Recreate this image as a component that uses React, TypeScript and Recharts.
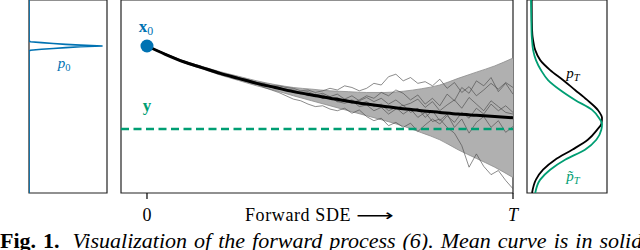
import React from 'react';
import {
  ComposedChart,
  LineChart,
  Line,
  Area,
  XAxis,
  YAxis,
  ReferenceLine,
  ReferenceDot,
  ReferenceArea,
} from 'recharts';

const BLUE = '#0072B2';
const GREEN = '#009E73';
const SERIF = '"Liberation Serif", "DejaVu Serif", serif';

// shared vertical scale (state value), y = 0 is the observation
const Y_DOMAIN: [number, number] = [-0.771, 1.554];
const T_DOMAIN: [number, number] = [-0.071, 1];

const timeTicks = [0, 1];
const timeTickLabels = ['0', 'T'];

// mean curve and +- band of the forward SDE
const bandT = [0, 0.05, 0.1, 0.15, 0.2, 0.25, 0.3, 0.35, 0.4, 0.45, 0.5, 0.55, 0.6, 0.65, 0.7, 0.75, 0.8, 0.85, 0.9, 0.95, 1];
const meanCurve = [1.0, 0.9, 0.81, 0.74, 0.67, 0.61, 0.55, 0.5, 0.45, 0.41, 0.37, 0.335, 0.3, 0.27, 0.245, 0.22, 0.2, 0.18, 0.165, 0.15, 0.135];
const bandUpper = [1.0, 0.905, 0.82, 0.755, 0.69, 0.635, 0.58, 0.535, 0.5, 0.48, 0.46, 0.45, 0.44, 0.44, 0.455, 0.485, 0.53, 0.61, 0.685, 0.76, 0.855];
const bandLower = [1.0, 0.895, 0.8, 0.725, 0.65, 0.585, 0.52, 0.465, 0.4, 0.34, 0.28, 0.22, 0.16, 0.1, 0.035, -0.045, -0.13, -0.25, -0.355, -0.46, -0.585];

// sample paths
const pathT = [
  0, 0.1, 0.2, 0.3, 0.32, 0.34, 0.36, 0.38, 0.4, 0.42, 0.44, 0.46, 0.48, 0.5, 0.52, 0.54, 0.56, 0.58, 0.6,
  0.62, 0.64, 0.66, 0.68, 0.7, 0.72, 0.74, 0.76, 0.78, 0.8, 0.82, 0.84, 0.86, 0.88, 0.9, 0.92, 0.94, 0.96, 0.98, 1,
];
const pathA = [1, 0.82, 0.68, 0.56, 0.55, 0.52, 0.52, 0.5, 0.49, 0.46, 0.47, 0.44, 0.46, 0.49, 0.47, 0.52, 0.5, 0.46, 0.49, 0.55, 0.53, 0.63, 0.66, 0.58, 0.62, 0.55, 0.57, 0.52, 0.6, 0.49, 0.56, 0.44, 0.51, 0.4, 0.47, 0.55, 0.48, 0.56, 0.5];
const pathB = [1, 0.8, 0.66, 0.54, 0.5, 0.47, 0.44, 0.4, 0.36, 0.34, 0.3, 0.27, 0.28, 0.24, 0.22, 0.25, 0.19, 0.23, 0.15, 0.1, 0.13, 0.04, 0.08, 0.02, 0.07, -0.03, 0.05, 0.12, 0.06, 0.16, 0.08, 0.2, 0.13, 0.25, 0.18, 0.3, 0.22, 0.28, 0.2];
const pathC = [1, 0.81, 0.67, 0.55, 0.54, 0.5, 0.5, 0.47, 0.46, 0.42, 0.43, 0.39, 0.41, 0.36, 0.38, 0.33, 0.35, 0.3, 0.33, 0.27, 0.3, 0.22, 0.26, 0.18, 0.24, 0.14, 0.2, 0.09, 0.12, 0.02, -0.05, -0.2, -0.46, -0.3, -0.45, -0.55, -0.5, -0.62, -0.72];
const pathD = [1, 0.815, 0.675, 0.55, 0.52, 0.52, 0.48, 0.48, 0.44, 0.44, 0.4, 0.42, 0.37, 0.39, 0.33, 0.36, 0.31, 0.35, 0.4, 0.37, 0.44, 0.4, 0.47, 0.43, 0.35, 0.41, 0.3, 0.37, 0.28, 0.42, 0.34, 0.5, 0.43, 0.58, 0.52, 0.62, 0.45, 0.55, 0.42];
const pathE = [1, 0.805, 0.665, 0.55, 0.53, 0.5, 0.5, 0.46, 0.46, 0.43, 0.41, 0.41, 0.37, 0.38, 0.33, 0.31, 0.34, 0.27, 0.29, 0.22, 0.26, 0.18, 0.24, 0.29, 0.2, 0.25, 0.14, 0.22, 0.1, 0.18, 0.02, 0.12, -0.05, 0.08, 0.15, 0.02, 0.1, -0.04, 0.03];
const pathF = [1, 0.81, 0.67, 0.55, 0.54, 0.51, 0.5, 0.48, 0.47, 0.44, 0.45, 0.41, 0.43, 0.39, 0.42, 0.36, 0.4, 0.34, 0.38, 0.33, 0.37, 0.3, 0.35, 0.28, 0.31, 0.36, 0.26, 0.33, 0.22, 0.29, 0.35, 0.25, 0.38, 0.3, 0.22, 0.34, 0.27, 0.2, 0.18];
const samplePaths = [pathA, pathB, pathC, pathD, pathE, pathF];

// initial density p0 (sharp spike at x0)
const p0Pos = [1.554, 1.06, 1.051, 1.04, 1.03, 1.02, 1.01, 1.0, 0.99, 0.98, 0.97, 0.96, 0.949, 0.94, -0.771];
const p0Dens = [0, 0, 0.02, 0.17, 0.33, 0.5, 0.7, 1.0, 0.7, 0.5, 0.33, 0.17, 0.02, 0, 0];

// terminal densities p_T and approximation
const pTPos = [1.554, 1.3, 1.13, 1.07, 0.95, 0.83, 0.71, 0.59, 0.47, 0.35, 0.23, 0.13, 0.06, -0.01, -0.13, -0.25, -0.37, -0.49, -0.61, -0.771];
const pTDens = [0.01, 0.012, 0.02, 0.03, 0.06, 0.13, 0.27, 0.45, 0.62, 0.79, 0.94, 1.0, 0.99, 0.93, 0.8, 0.58, 0.34, 0.17, 0.07, 0.015];
const pTildeDens = [0.0, 0.005, 0.01, 0.015, 0.03, 0.07, 0.14, 0.24, 0.41, 0.62, 0.86, 0.96, 1.0, 0.99, 0.92, 0.76, 0.48, 0.27, 0.13, 0.06];

const bandData = bandT.map((t, i) => ({ t, range: [bandLower[i], bandUpper[i]] }));
const meanData = bandT.map((t, i) => ({ t, v: meanCurve[i] }));
const pathData = samplePaths.map((p) => pathT.map((t, i) => ({ t, v: p[i] })));
const p0Data = p0Pos.map((v, i) => ({ v, d: p0Dens[i] }));
const pTData = pTPos.map((v, i) => ({ v, black: pTDens[i], green: pTildeDens[i] }));

const TimeTick = (props: any) => {
  const { x, y, payload } = props;
  const idx = timeTicks.indexOf(payload.value);
  return (
    <text x={x} y={y + 20} textAnchor="middle" fontFamily={SERIF} fontSize={18} fontStyle={idx === 1 ? 'italic' : 'normal'} fill="#000">
      {timeTickLabels[idx]}
    </text>
  );
};

const lbl = (left: number, top: number, size: number, color: string): React.CSSProperties => ({
  position: 'absolute',
  left,
  top,
  fontFamily: SERIF,
  fontSize: size,
  lineHeight: 1,
  color,
  whiteSpace: 'nowrap',
  transform: 'translateX(-50%)',
});

const sub: React.CSSProperties = { fontSize: '0.7em', verticalAlign: '-0.25em' };

const App: React.FC = () => {
  const P0_X: [number, number] = [0, 1.06];
  const PT_X: [number, number] = [-0.056, 1.07];
  return (
    <div style={{ position: 'absolute', left: 0, top: 0, width: 640, height: 250, overflow: 'hidden', background: '#fff' }}>
      {/* left panel: p0 */}
      <div style={{ position: 'absolute', left: 19, top: 0 }}>
        <LineChart width={98} height={250} layout="vertical" data={p0Data} margin={{ top: 0, right: 10, bottom: 57, left: 10 }}>
          <XAxis type="number" hide domain={P0_X} allowDataOverflow />
          <YAxis type="number" dataKey="v" hide reversed domain={Y_DOMAIN} allowDataOverflow />
          <ReferenceArea x1={P0_X[0]} x2={P0_X[1]} y1={Y_DOMAIN[0]} y2={Y_DOMAIN[1]} fill="none" stroke="#222" strokeWidth={1.2} />
          <Line dataKey="d" type="linear" stroke={BLUE} strokeWidth={1.6} dot={false} isAnimationActive={false} />
        </LineChart>
      </div>

      {/* main panel: forward SDE */}
      <div style={{ position: 'absolute', left: 111, top: 0 }}>
        <ComposedChart width={412} height={250} margin={{ top: 0, right: 10, bottom: 27, left: 10 }}>
          <XAxis
            type="number"
            dataKey="t"
            domain={T_DOMAIN}
            ticks={timeTicks}
            allowDataOverflow
            axisLine={false}
            tickLine={{ stroke: '#000', strokeWidth: 1.2 }}
            tickSize={6}
            height={30}
            tick={<TimeTick />}
          />
          <YAxis type="number" hide domain={Y_DOMAIN} allowDataOverflow />
          <ReferenceArea x1={T_DOMAIN[0]} x2={T_DOMAIN[1]} y1={Y_DOMAIN[0]} y2={Y_DOMAIN[1]} fill="none" stroke="#222" strokeWidth={1.2} />
          <Area data={bandData} dataKey="range" type="monotone" fill="#b0b0b0" fillOpacity={1} stroke="#8c8c8c" strokeWidth={0.8} isAnimationActive={false} />
          {pathData.map((d, i) => (
            <Line key={i} data={d} dataKey="v" type="linear" stroke="#4a4a4a" strokeWidth={0.75} strokeOpacity={0.85} dot={false} isAnimationActive={false} />
          ))}
          <ReferenceLine y={0} stroke={GREEN} strokeWidth={2.6} strokeDasharray="8 4.5" />
          <Line data={meanData} dataKey="v" type="monotone" stroke="#000" strokeWidth={3} dot={false} isAnimationActive={false} />
          <ReferenceDot x={0} y={1} r={6.5} fill={BLUE} stroke="none" />
        </ComposedChart>
      </div>

      {/* right panel: p_T */}
      <div style={{ position: 'absolute', left: 522, top: 0 }}>
        <LineChart width={90} height={250} layout="vertical" data={pTData} margin={{ top: 0, right: 5, bottom: 57, left: 5 }}>
          <XAxis type="number" hide domain={PT_X} allowDataOverflow />
          <YAxis type="number" dataKey="v" hide reversed domain={Y_DOMAIN} allowDataOverflow />
          <ReferenceArea x1={PT_X[0]} x2={PT_X[1]} y1={Y_DOMAIN[0]} y2={Y_DOMAIN[1]} fill="none" stroke="#222" strokeWidth={1.2} />
          <Line dataKey="black" type="monotone" stroke="#000" strokeWidth={1.8} dot={false} isAnimationActive={false} />
          <Line dataKey="green" type="monotone" stroke={GREEN} strokeWidth={1.8} dot={false} isAnimationActive={false} />
        </LineChart>
      </div>

      {/* annotations */}
      <div style={lbl(146, 18, 17, BLUE)}>
        <b>x</b>
        <span style={sub}>0</span>
      </div>
      <div style={lbl(147, 97, 17, GREEN)}>
        <b>y</b>
      </div>
      <div style={lbl(64, 56, 15, BLUE)}>
        <i>p</i>
        <span style={sub}>0</span>
      </div>
      <div style={lbl(573, 66, 15, '#000')}>
        <i>p</i>
        <span style={sub}><i>T</i></span>
      </div>
      <div style={lbl(573, 169, 15, GREEN)}>
        <i>p̃</i>
        <span style={sub}><i>T</i></span>
      </div>
      <div style={{ ...lbl(245, 206, 18, '#000'), transform: 'none', letterSpacing: 0.6 }}>
        Forward SDE <span style={{ display: 'inline-block', transform: 'scaleX(1.65)', transformOrigin: 'left', fontFamily: '"DejaVu Sans", sans-serif', fontSize: 16, letterSpacing: 0 }}>⟶</span>
      </div>
      <div style={{ position: 'absolute', left: 0, top: 230, fontFamily: SERIF, fontSize: 22, lineHeight: 1, whiteSpace: 'nowrap', color: '#000', wordSpacing: 1.5 }}>
        <b style={{ marginRight: 6 }}>Fig. 1.</b> <i>Visualization of the forward process (6). Mean curve is in solid black,</i>
      </div>
    </div>
  );
};

export default App;
